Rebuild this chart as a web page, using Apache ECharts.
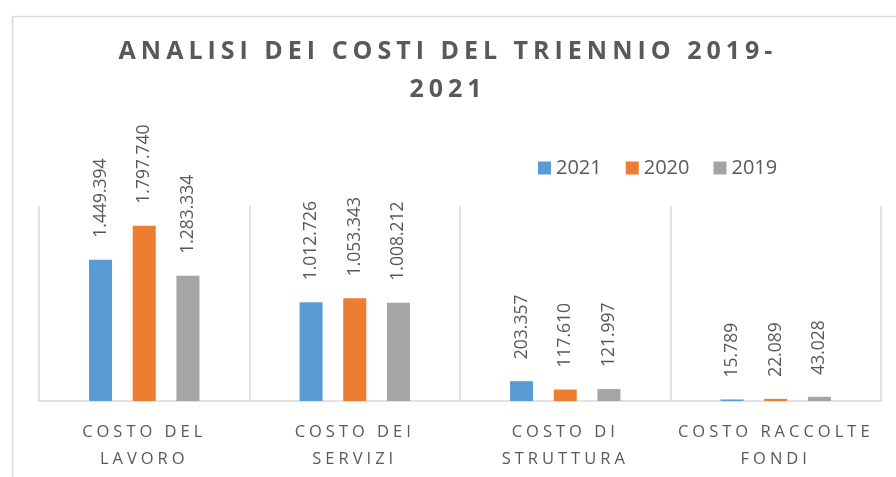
<!DOCTYPE html>
<html>
<head>
<meta charset="utf-8">
<script src="https://cdn.jsdelivr.net/npm/echarts@6/dist/echarts.min.js"></script>
<style>
  html, body { margin: 0; padding: 0; background: #fff; }
  #chart { width: 896px; height: 477px; }
</style>
</head>
<body>
<div id="chart"></div>
<script>
var categories = ['COSTO DEL LAVORO', 'COSTO DEI SERVIZI', 'COSTO DI STRUTTURA', 'COSTO RACCOLTE FONDI'];
var years = ['2021', '2020', '2019'];
var values2021 = [1449394, 1012726, 203357, 15789];
var values2020 = [1797740, 1053343, 117610, 22089];
var values2019 = [1283334, 1008212, 121997, 43028];

// letter spacing for the spaced-out texts (title, categories): the canvas
// supports it, zrender does not, so hook it on the font of the context
var fontDesc = Object.getOwnPropertyDescriptor(CanvasRenderingContext2D.prototype, 'font');
Object.defineProperty(CanvasRenderingContext2D.prototype, 'font', {
  get: function () { return fontDesc.get.call(this); },
  set: function (v) {
    fontDesc.set.call(this, v);
    var m = /ls(\d+)/.exec(v);
    this.letterSpacing = m ? m[1] + 'px' : '0px';
  }
});

function fmt(v) {
  return String(v).replace(/\B(?=(\d{3})+(?!\d))/g, '.');
}

var chart = echarts.init(document.getElementById('chart'));

var labelOpt = {
  show: true,
  position: 'top',
  rotate: 90,
  align: 'left',
  verticalAlign: 'middle',
  distance: 22,
  fontFamily: 'Open Sans',
  fontSize: 17.5,
  color: '#595959',
  formatter: function (p) { return fmt(p.value); }
};

var option = {
  animation: false,
  color: ['#5b9bd5', '#ed7d31', '#a5a5a5'],
  title: {
    text: 'ANALISI DEI COSTI DEL TRIENNIO 2019-\n2021',
    left: 'center',
    top: 28,
    padding: [5, 5, 5, 16],
    textStyle: {
      fontFamily: "'Open Sans', ls5",
      fontWeight: 'bold',
      fontSize: 25,
      lineHeight: 38,
      color: '#595959'
    }
  },
  legend: {
    data: years,
    left: 533,
    top: 153,
    icon: 'rect',
    itemWidth: 13,
    itemHeight: 13,
    itemGap: 24,
    textStyle: {
      fontFamily: 'Open Sans',
      fontSize: 20,
      color: '#595959'
    }
  },
  graphic: [{
    type: 'rect',
    left: 10,
    top: 14,
    z: -1,
    shape: { width: 1200, height: 1200 },
    style: { fill: 'none', stroke: '#d9d9d9', lineWidth: 1.5 }
  }],
  grid: {
    left: 39,
    right: 15,
    top: 206,
    bottom: 76
  },
  xAxis: {
    type: 'category',
    data: categories,
    axisTick: { show: false },
    axisLine: { lineStyle: { color: '#d9d9d9', width: 1.5 } },
    splitLine: { show: true, lineStyle: { color: '#d9d9d9', width: 1.5 } },
    axisLabel: {
      interval: 0,
      margin: 18,
      fontFamily: "'Open Sans', ls4",
      fontSize: 16.5,
      lineHeight: 27,
      color: '#595959',
      formatter: function (v) {
        var w = v.split(' ');
        return w.slice(0, 2).join(' ') + '\n' + w.slice(2).join(' ');
      }
    }
  },
  yAxis: {
    type: 'value',
    min: 0,
    max: 2000000,
    show: false,
    splitLine: { show: false }
  },
  series: [{
    name: years[0],
    type: 'bar',
    barWidth: 23,
    barGap: '90%',
    label: labelOpt,
    data: values2021
  }, {
    name: years[1],
    type: 'bar',
    barWidth: 23,
    barGap: '90%',
    label: labelOpt,
    data: values2020
  }, {
    name: years[2],
    type: 'bar',
    barWidth: 23,
    barGap: '90%',
    label: labelOpt,
    data: values2019
  }]
};

chart.setOption(option);
</script>
</body>
</html>
